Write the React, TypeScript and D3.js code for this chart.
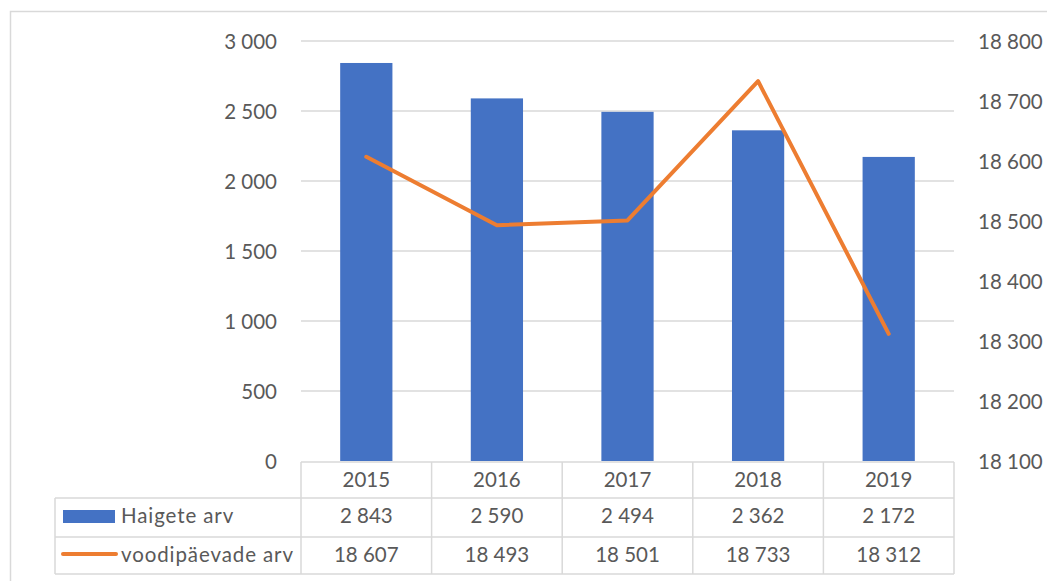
import React, { useEffect, useRef } from 'react';
import { formatLocale, scaleBand, scaleLinear, select, line } from 'd3';

const years = ['2015', '2016', '2017', '2018', '2019'];
const patients = [2843, 2590, 2494, 2362, 2172];
const bedDays = [18607, 18493, 18501, 18733, 18312];
const leftTicks = [0, 500, 1000, 1500, 2000, 2500, 3000];
const rightTicks = [18100, 18200, 18300, 18400, 18500, 18600, 18700, 18800];
const seriesNames = ['Haigete arv', 'voodipäevade arv'];

const BLUE = '#4472C4';
const ORANGE = '#ED7D31';
const GRID = '#d9d9d9';
const TEXT = '#595959';
const FONT = 'Lato, "Noto Sans", sans-serif';
const FS = '20.5px';

const fmt = formatLocale({ decimal: ',', thousands: '\u00a0', grouping: [3], currency: ['', ''] }).format(',d');

const App = () => {
  const ref = useRef<SVGSVGElement | null>(null);

  useEffect(() => {
    document.body.style.margin = '0';
    const svg = select(ref.current);
    svg.selectAll('*').remove();
    const width = 1047;
    const height = 581;
    svg.attr('width', width).attr('height', height);

    const left = 301;
    const right = 954;
    const top = 41;
    const bottom = 461;

    svg.append('rect')
      .attr('x', 10.5).attr('y', 11.5).attr('width', 1100).attr('height', 600)
      .attr('fill', '#fff').attr('stroke', GRID).attr('stroke-width', 1.5);

    const x = scaleBand().domain(years).range([left, right]).paddingInner(0).paddingOuter(0);
    const yL = scaleLinear().domain([0, 3000]).range([bottom, top]);
    const yR = scaleLinear().domain([18100, 18800]).range([bottom, top]);

    const g = svg.append('g');

    // gridlines
    g.selectAll('.grid').data(leftTicks.filter((d) => d > 0)).enter().append('line')
      .attr('x1', left).attr('x2', right)
      .attr('y1', (d) => yL(d)).attr('y2', (d) => yL(d))
      .attr('stroke', GRID).attr('stroke-width', 1.5);

    // left axis labels
    g.selectAll('.lt').data(leftTicks).enter().append('text')
      .attr('x', 277).attr('y', (d) => yL(d) + 7.5)
      .attr('text-anchor', 'end').attr('fill', TEXT)
      .style('font-family', FONT).style('font-size', FS)
      .text((d) => fmt(d));

    // right axis labels
    g.selectAll('.rt').data(rightTicks).enter().append('text')
      .attr('x', 978).attr('y', (d) => yR(d) + 7.5)
      .attr('text-anchor', 'start').attr('fill', TEXT)
      .style('font-family', FONT).style('font-size', FS)
      .text((d) => fmt(d));

    // bars
    const bw = x.bandwidth() * 0.4;
    g.selectAll('.bar').data(patients).enter().append('rect')
      .attr('x', (_, i) => (x(years[i]) ?? 0) + x.bandwidth() / 2 - bw / 2)
      .attr('y', (d) => yL(d))
      .attr('width', bw)
      .attr('height', (d) => bottom - yL(d))
      .attr('fill', BLUE);

    // line
    const ln = line<number>()
      .x((_, i) => (x(years[i]) ?? 0) + x.bandwidth() / 2)
      .y((d) => yR(d));
    g.append('path').datum(bedDays).attr('d', ln)
      .attr('fill', 'none').attr('stroke', ORANGE).attr('stroke-width', 4)
      .attr('stroke-linejoin', 'round').attr('stroke-linecap', 'round');

    // data table
    const rowY = [462, 498, 537, 574];
    const legLeft = 55;
    const t = svg.append('g').attr('stroke', GRID).attr('stroke-width', 1.5);
    t.append('line').attr('x1', left).attr('x2', right).attr('y1', rowY[0]).attr('y2', rowY[0]);
    rowY.slice(1).forEach((yy) => {
      t.append('line').attr('x1', legLeft).attr('x2', right).attr('y1', yy).attr('y2', yy);
    });
    t.append('line').attr('x1', legLeft).attr('x2', legLeft).attr('y1', rowY[1]).attr('y2', rowY[3]);
    years.forEach((yr) => {
      const xx = x(yr) ?? 0;
      t.append('line').attr('x1', xx).attr('x2', xx).attr('y1', rowY[0]).attr('y2', rowY[3]);
    });
    t.append('line').attr('x1', right).attr('x2', right).attr('y1', rowY[0]).attr('y2', rowY[3]);

    const baselines = [487, 523, 562];
    const rows = [years, patients.map((d) => fmt(d)), bedDays.map((d) => fmt(d))];
    rows.forEach((vals, r) => {
      svg.append('g').selectAll('text').data(vals).enter().append('text')
        .attr('x', (_, i) => (x(years[i]) ?? 0) + x.bandwidth() / 2)
        .attr('y', baselines[r])
        .attr('text-anchor', 'middle').attr('fill', TEXT)
        .style('font-family', FONT).style('font-size', FS)
        .text((d) => d);
    });

    // legend keys
    svg.append('rect').attr('x', 63).attr('y', 510).attr('width', 52).attr('height', 13).attr('fill', BLUE);
    svg.append('line').attr('x1', 63).attr('x2', 116).attr('y1', 554).attr('y2', 554)
      .attr('stroke', ORANGE).attr('stroke-width', 4).attr('stroke-linecap', 'round');
    seriesNames.forEach((name, i) => {
      svg.append('text').attr('x', 121).attr('y', baselines[i + 1])
        .attr('fill', TEXT).style('font-family', FONT).style('font-size', FS)
        .style('letter-spacing', '0.9px')
        .text(name);
    });
  }, []);

  return <svg ref={ref} style={{ display: 'block' }} />;
};

export default App;
